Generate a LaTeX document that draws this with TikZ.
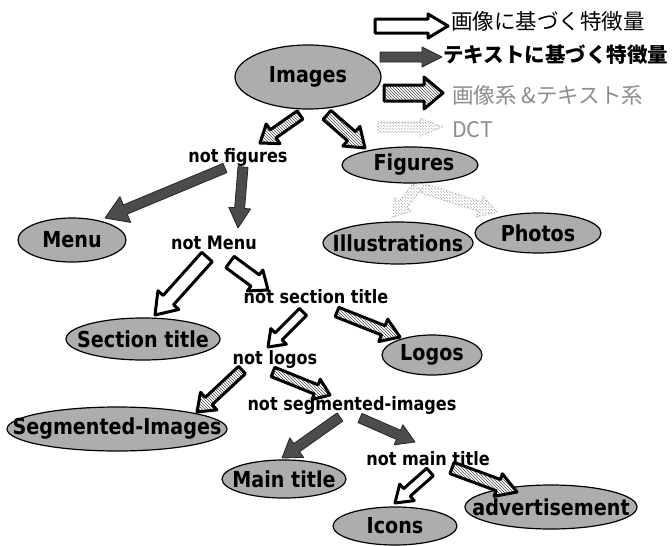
\documentclass[tikz,border=0pt]{standalone}
\usepackage{fontspec}
\setmainfont{DejaVu Sans}
\newfontfamily\lblfont[FakeStretch=0.87]{DejaVu Sans}
\newfontfamily\jpfont{Noto Sans CJK JP}
\usetikzlibrary{calc,patterns,shapes.geometric}
% block arrow: [style]{start}{tip}{shaft half width}{head half width}{head length}
\newcommand\barrow[6][]{%
  \coordinate (ba) at (#2);
  \coordinate (bb) at (#3);
  \coordinate (bh) at ($(bb)!#6pt!(ba)$);
  \draw[#1] ($(ba)!#4pt!90:(bb)$) -- ($(bh)!#4pt!90:(bb)$) -- ($(bh)!#5pt!90:(bb)$)
    -- (bb) -- ($(bh)!#5pt!-90:(bb)$) -- ($(bh)!#4pt!-90:(bb)$) -- ($(ba)!#4pt!-90:(bb)$) -- cycle;
}
\tikzset{
  ell/.style={ellipse, draw=black, line width=1.2pt, fill=black!32, inner sep=0pt,
    font=\lblfont\bfseries\fontsize{22}{24}\selectfont},
  plain/.style={inner sep=0pt, font=\lblfont\bfseries\fontsize{18.5}{20}\selectfont},
  jp/.style={anchor=west, inner sep=0pt, font=\jpfont\fontsize{21.5}{23}\selectfont},
  imgarr/.style={draw=black, line width=3pt, line join=round, fill=white},
  txtarr/.style={draw=black!85, line width=0.8pt, line join=round, fill=black!70},
  mixarr/.style={draw=black, line width=3pt, line join=round, preaction={fill=white},
    pattern=north west lines, pattern color=black!70},
  dctarr/.style={draw=black!35, line width=1pt, dotted, preaction={fill=white},
    pattern=north west lines, pattern color=black!30},
}
\begin{document}
\begin{tikzpicture}[x=1pt, y=-1pt]
\useasboundingbox (0,0) rectangle (672,546);

% legend
\node[jp] (j1) at (451,21) {画像に基づく特徴量};
\node[jp, font=\jpfont\bfseries\fontsize{20.5}{22}\selectfont] (j2) at (443,55) {テキストに基づく特徴量};
\node[jp, text=black!45] (j3) at (452,95) {画像系 \&テキスト系};
\node[jp, text=black!45] (j4) at (452,130) {DCT};
\coordinate (l1) at (375,26);
\coordinate (l2) at (380,57);
\coordinate (l3) at (384,93);
\coordinate (l4) at (378,127);
\barrow[imgarr]{l1}{[shift={(-3,5)}]j1.west}{7}{12}{20}
\barrow[txtarr]{l2}{[shift={(-1,2)}]j2.west}{5}{10}{20}
\barrow[mixarr]{l3}{[shift={(-9,-2)}]j3.west}{8}{16}{19}
\barrow[dctarr]{l4}{[shift={(-10,-3)}]j4.west}{5}{9}{22}

% nodes
\node[ell, minimum width=146pt, minimum height=64pt] (img) at (308,77) {\makebox[0pt]{Images}};
\node[ell, minimum width=136pt, minimum height=36pt] (fig) at (410,165) {\makebox[0pt]{\hspace{8pt}Figures}};
\node[plain] (nf) at (238,157) {not figures};
\node[ell, minimum width=108pt, minimum height=44pt] (menu) at (72,240) {\makebox[0pt]{Menu}};
\node[plain] (nm) at (214,243) {not Menu};
\node[ell, minimum width=150pt, minimum height=42pt] (ill) at (398,243) {\makebox[0pt]{Illustrations}};
\node[ell, minimum width=126pt, minimum height=40pt] (pho) at (538,233) {\makebox[0pt]{Photos}};
\node[plain] (nst) at (316,297) {not section title};
\node[ell, minimum width=154pt, minimum height=42pt] (sec) at (143,339) {\makebox[0pt]{Section title}};
\node[ell, minimum width=100pt, minimum height=40pt] (logo) at (432,355) {\makebox[0pt]{Logos}};
\node[plain] (nl) at (275,359) {not logos};
\node[ell, minimum width=220pt, minimum height=44pt] (seg) at (117,429) {\makebox[0pt]{Segmented-Images}};
\node[plain] (nsi) at (352,405) {not segmented-images};
\node[ell, minimum width=124pt, minimum height=38pt] (mt) at (284,479) {\makebox[0pt]{Main title}};
\node[plain] (nmt) at (428,459) {not main title};
\node[ell, minimum width=124pt, minimum height=38pt] (ic) at (395,526) {\makebox[0pt]{Icons}};
\node[ell, minimum width=172pt, minimum height=44pt] (adv) at (551,507) {\makebox[0pt]{advertisement}};

% connectors
\barrow[mixarr]{[shift={(-8,38)}]img}{[shift={(22,-14)}]nf}{5}{12}{16}
\barrow[mixarr]{[shift={(19,38)}]img}{[shift={(-45,-17)}]fig}{6}{13}{18}
\barrow[txtarr]{[shift={(-13,11)}]nf}{[shift={(33,-22)}]menu}{5}{14}{22}
\barrow[txtarr]{[shift={(5,10)}]nf}{[shift={(24,-15)}]nm}{5}{11}{20}
\barrow[imgarr]{[shift={(-7,14)}]nm}{[shift={(12,-24)}]sec}{7}{14}{20}
\barrow[imgarr]{[shift={(16,19)}]nm}{[shift={(-48,-7)}]nst}{7}{13}{16}
\barrow[dctarr]{[shift={(7,22)}]fig}{[shift={(-5,-26)}]ill}{5}{11}{16}
\barrow[dctarr]{[shift={(12,23)}]fig}{[shift={(-41,-21)}]pho}{5}{11}{18}
\barrow[imgarr]{[shift={(-13,15)}]nst}{[shift={(-7,-12)}]nl}{5}{11}{15}
\barrow[mixarr]{[shift={(21,15)}]nst}{[shift={(-32,-18)}]logo}{5}{12}{18}
\barrow[mixarr]{[shift={(-33,11)}]nl}{[shift={(80,-17)}]seg}{5}{12}{16}
\barrow[mixarr]{[shift={(-2,13)}]nl}{[shift={(-22,-10)}]nsi}{5}{11}{15}
\barrow[txtarr]{[shift={(-12,12)}]nsi}{[shift={(-2,-21)}]mt}{5}{12}{18}
\barrow[txtarr]{[shift={(8,13)}]nsi}{[shift={(-13,-17)}]nmt}{5}{11}{18}
\barrow[imgarr]{[shift={(2,13)}]nmt}{[shift={(0,-23)}]ic}{5}{11}{16}
\barrow[mixarr]{[shift={(24,9)}]nmt}{[shift={(-34,-15)}]adv}{6}{12}{20}
\end{tikzpicture}
\end{document}
